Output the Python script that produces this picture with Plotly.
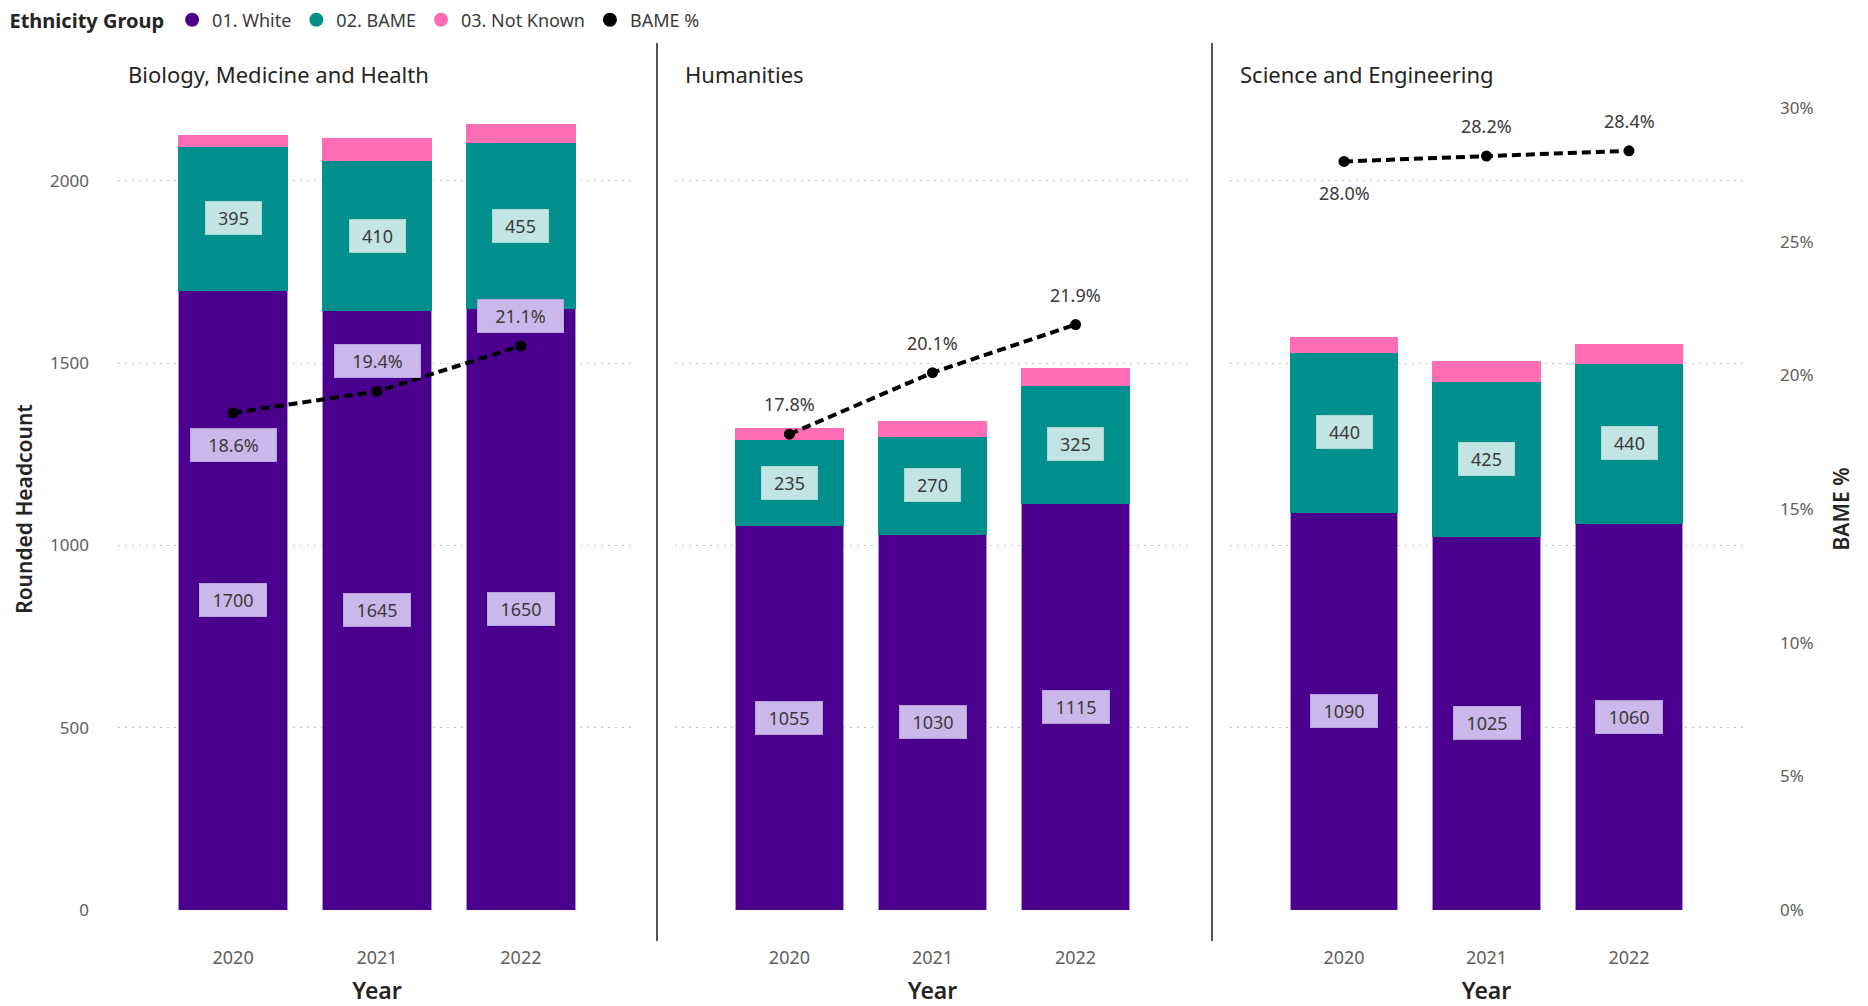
import plotly.graph_objects as go

# ---- data ---------------------------------------------------------------
years = ["2020", "2021", "2022"]
faculties = ["Biology, Medicine and Health", "Humanities", "Science and Engineering"]

white_counts = [[1700, 1645, 1650], [1055, 1030, 1115], [1090, 1025, 1060]]
bame_counts = [[395, 410, 455], [235, 270, 325], [440, 425, 440]]
not_known_counts = [[30, 60, 50], [30, 40, 45], [40, 55, 50]]
bame_pct = [[18.6, 19.4, 21.1], [17.8, 20.1, 21.9], [28.0, 28.2, 28.4]]

count_ticks = [0, 500, 1000, 1500, 2000]
pct_ticks = [0, 5, 10, 15, 20, 25, 30]

# ---- styling ------------------------------------------------------------
C_WHITE = "#4a008c"
C_BAME = "#008f8c"
C_NK = "#ff6eb4"
BOX_WHITE = "#cbb8ea"
BOX_BAME = "#c2e5e4"
FONT = "Noto Sans, Open Sans, sans-serif"
TICK_COL = "#605e5c"
TITLE_COL = "#252423"
LABEL_COL = "#3b3a39"

W, H = 1868, 1006
x_domains = [(118 / W, 636 / W), (675 / W, 1190 / W), (1230 / W, 1743 / W)]
y_domain = [1 - 910 / H, 1 - 108 / H]
# where each percentage label sits relative to its point, per panel
pct_label_side = [["below", "above", "above"], ["above", "above", "above"], ["below", "above", "above"]]
pct_label_boxed = [True, False, False]

fig = go.Figure()
annotations = []
label_font = dict(family=FONT, size=18, color=LABEL_COL)


def box_width(text):
    # label boxes are a little wider than their text
    return 14 + 11 * len(text)


for i, fac in enumerate(faculties):
    xa = "x" if i == 0 else f"x{i + 1}"
    ya = "y" if i == 0 else f"y{i + 1}"
    ya_pct = f"y{i + 4}"
    for name, vals, col, edge in [("01. White", white_counts[i], C_WHITE, "#b28be6"),
                                  ("02. BAME", bame_counts[i], C_BAME, C_BAME),
                                  ("03. Not Known", not_known_counts[i], C_NK, C_NK)]:
        fig.add_trace(go.Bar(x=years, y=vals, name=name, marker_color=col,
                             marker_line=dict(color=edge, width=1), xaxis=xa, yaxis=ya,
                             showlegend=False, hoverinfo="x+y+name"))
    fig.add_trace(go.Scatter(x=years, y=bame_pct[i], name="BAME %", mode="lines+markers",
                             line=dict(color="black", width=4, dash="9px,5px"),
                             marker=dict(color="black", size=11),
                             xaxis=xa, yaxis=ya_pct, showlegend=False))

    # value labels in the middle of each segment (category index on x)
    for j, yr in enumerate(years):
        w = white_counts[i][j]
        b = bame_counts[i][j]
        annotations.append(dict(x=j, y=w / 2, xref=xa, yref=ya, text=str(w), showarrow=False,
                                width=box_width(str(w)),
                                bgcolor=BOX_WHITE, bordercolor="#b9a2e2", borderwidth=1, borderpad=4,
                                font=label_font))
        annotations.append(dict(x=j, y=w + b / 2, xref=xa, yref=ya, text=str(b), showarrow=False,
                                width=box_width(str(b)),
                                bgcolor=BOX_BAME, bordercolor="#acd9d8", borderwidth=1, borderpad=4,
                                font=label_font))
        p = bame_pct[i][j]
        side = pct_label_side[i][j]
        txt = f"{p:.1f}%"
        ann = dict(x=j, y=p, xref=xa, yref=ya_pct, text=txt, showarrow=False,
                   yshift=30 if side == "above" else -32, font=label_font)
        if pct_label_boxed[i]:
            ann.update(bgcolor=BOX_WHITE, bordercolor="#b9a2e2", borderwidth=1, borderpad=4,
                       width=box_width(txt) + 8)
        annotations.append(ann)

    # panel title
    annotations.append(dict(x=0, xshift=8, y=1 - 74 / H, xref=f"{xa} domain", yref="paper",
                            text=fac, showarrow=False, xanchor="left", yanchor="middle",
                            font=dict(family=FONT, size=22, color=TITLE_COL)))

# legend entries drawn as round dots
for name, col in [("01. White", C_WHITE), ("02. BAME", C_BAME),
                  ("03. Not Known", C_NK), ("BAME %", "black")]:
    fig.add_trace(go.Scatter(x=[None], y=[None], mode="markers", name=name,
                             marker=dict(color=col, size=14, symbol="circle"),
                             xaxis="x", yaxis="y", showlegend=True))

axis_font = dict(family=FONT, size=17, color=TICK_COL)
grid_style = dict(showgrid=True, gridcolor="#c4c4c4", griddash="2px,5px", gridwidth=1)
layout = dict(
    width=W, height=H,
    margin=dict(l=0, r=0, t=0, b=0),
    paper_bgcolor="white", plot_bgcolor="white",
    barmode="stack", bargap=0.243,
    font=dict(family=FONT),
    annotations=annotations,
    legend=dict(orientation="h", x=0.004, y=1 - 20 / H, xanchor="left", yanchor="middle",
                traceorder="normal",
                title=dict(text="<b>Ethnicity Group</b>", side="left",
                           font=dict(family=FONT, size=20, color=TITLE_COL)),
                font=dict(family=FONT, size=18, color=LABEL_COL),
                itemwidth=30, tracegroupgap=0, bgcolor="rgba(0,0,0,0)"),
    shapes=[dict(type="line", xref="paper", yref="paper", x0=x, x1=x,
                 y0=1 - 941 / H, y1=1 - 43 / H, line=dict(color="#555555", width=2))
            for x in (657 / W, 1212 / W)],
)

for i in range(3):
    sfx = "" if i == 0 else str(i + 1)
    layout[f"xaxis{sfx}"] = dict(
        domain=x_domains[i], anchor=f"y{sfx}", type="category", range=[-0.8, 2.8],
        showgrid=False, zeroline=False, showline=False, ticks="",
        tickfont=dict(family=FONT, size=18, color=TICK_COL), ticklabelstandoff=35,
        title=dict(text="Year", standoff=14,
                   font=dict(family=FONT, size=23, color=TITLE_COL, weight=600)),
        automargin=False,
    )
    layout[f"yaxis{sfx}"] = dict(
        domain=y_domain, anchor=f"x{sfx}", range=[0, 2200], tickvals=count_ticks,
        zeroline=False, showline=False, ticks="",
        showticklabels=(i == 0), tickfont=axis_font, ticklabelstandoff=28,
        title=dict(text="Rounded Headcount" if i == 0 else "", standoff=11,
                   font=dict(family=FONT, size=21, color=TITLE_COL, weight=600)),
        automargin=False, **grid_style,
    )
    layout[f"yaxis{i + 4}"] = dict(
        overlaying=f"y{sfx}", anchor=f"x{sfx}", range=[0, 30],
        tickmode="array", tickvals=pct_ticks, ticktext=[f"{t}%" for t in pct_ticks],
        showgrid=False, zeroline=False, showline=False, ticks="",
        visible=(i == 2), side="right", tickfont=axis_font, ticklabelstandoff=36,
        title=dict(text="BAME %" if i == 2 else "", standoff=21,
                   font=dict(family=FONT, size=21, color=TITLE_COL, weight=600)),
        automargin=False,
    )

fig.update_layout(**layout)
fig.write_html("out.html")
